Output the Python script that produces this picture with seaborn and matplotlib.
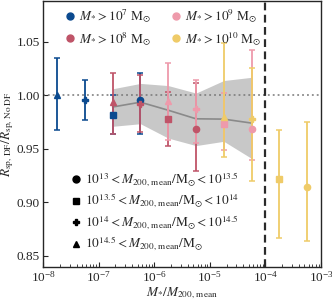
import numpy as np
import pandas as pd
import matplotlib
matplotlib.use("Agg")
import matplotlib.pyplot as plt
from matplotlib.lines import Line2D
import seaborn as sns

# stellar mass thresholds (log10 Msun) and halo mass bin centres (log10 Msun)
log_mstar = [7, 7, 7, 7, 8, 8, 8, 8, 9, 9, 9, 9, 10, 10, 10, 10]
log_m200 = [14.75, 14.25, 13.75, 13.25] * 4
ratio = [1.000, 0.9957, 0.982, 0.9957,
         0.994, 0.992, 0.9774, 0.9688,
         0.995, 0.9867, 0.9734, 0.9688,
         0.980, 0.978, 0.922, 0.914]
err_hi = [1.035, 1.0146, 1.0006, 1.0209,
          1.021, 1.0193, 1.0028, 1.011,
          1.030, 1.0146, 1.0019, 1.042,
          1.049, 1.025, 0.9678, 0.9746]
err_lo = [0.968, 0.9768, 0.9638, 0.9641,
          0.9638, 0.966, 0.953, 0.9294,
          0.9585, 0.9554, 0.9486, 0.940,
          0.9424, 0.920, 0.867, 0.864]

# running median + spread
band_logx = [-6.75, -6.25, -5.75, -5.25, -4.75, -4.25]
band_mid = [0.989, 0.9935, 0.986, 0.978, 0.9777, 0.974]
band_up = [1.006, 1.011, 1.009, 1.002, 1.0137, 1.0167]
band_lo = [0.971, 0.9734, 0.960, 0.953, 0.957, 0.941]

mstar_colors = {7: "#0b4a8f", 8: "#bf5468", 9: "#ee9aab", 10: "#efcb68"}
halo_markers = {13.25: "o", 13.75: "s", 14.25: "P", 14.75: "^"}
halo_labels = [r"$10^{13} < M_{200,\,\mathrm{mean}}/\mathrm{M}_{\odot} < 10^{13.5}$",
               r"$10^{13.5} < M_{200,\,\mathrm{mean}}/\mathrm{M}_{\odot} < 10^{14}$",
               r"$10^{14} < M_{200,\,\mathrm{mean}}/\mathrm{M}_{\odot} < 10^{14.5}$",
               r"$10^{14.5} < M_{200,\,\mathrm{mean}}/\mathrm{M}_{\odot}$"]

df = pd.DataFrame({"mstar": log_mstar, "m200": log_m200, "ratio": ratio,
                   "hi": err_hi, "lo": err_lo})
df["x"] = 10 ** (df.mstar - df.m200)

sns.set_style("ticks")
plt.rcParams["font.family"] = ["Liberation Serif", "DejaVu Serif"]
plt.rcParams["mathtext.fontset"] = "stix"
plt.rcParams["font.size"] = 10
plt.rcParams["xtick.direction"] = "in"
plt.rcParams["ytick.direction"] = "in"

fig = plt.figure(figsize=(3.32, 3.0), dpi=100)
ax = fig.add_axes([0.13, 0.111, 0.837, 0.886])

bx = 10 ** np.array(band_logx)
ax.fill_between(bx, band_lo, band_up, color="#c8c8c8", lw=0, zorder=1)
sns.lineplot(x=bx, y=band_mid, color="#8a8a8a", lw=1.2, ax=ax, zorder=2)

ax.axhline(1.0, color="#777777", ls=(0, (1.2, 2)), lw=1.1, zorder=1.5)
ax.axvline(1e-4, color="#2a2a2a", ls=(0, (3.5, 2)), lw=1.6, zorder=1.5)

for _, r in df.iterrows():
    c = mstar_colors[int(r.mstar)]
    ax.errorbar(r.x, r.ratio, yerr=[[r.ratio - r.lo], [r.hi - r.ratio]],
                fmt=halo_markers[r.m200], color=c, ms=4.5, elinewidth=1.3,
                capsize=2.3, capthick=1.1, zorder=3)

ax.set_xscale("log")
ax.set_xlim(1e-8, 1e-3)
ax.set_ylim(0.84, 1.088)
ax.set_yticks([0.85, 0.90, 0.95, 1.00, 1.05])
ax.tick_params(which="both", top=False, right=False)
ax.tick_params(which="major", length=3.5, width=0.8, labelsize=9.5, pad=2.5)
ax.tick_params(which="minor", length=2, width=0.6)
for s in ax.spines.values():
    s.set_linewidth(1.0)

ax.set_xlabel(r"$M_{*}/M_{200,\,\mathrm{mean}}$", fontsize=9.5, labelpad=0)
ax.set_ylabel(r"$R_{\mathrm{sp,\,DF}}/R_{\mathrm{sp,\,No\;DF}}$", fontsize=9.5, labelpad=0)

h1 = [Line2D([], [], ls="", marker="o", ms=5, color=mstar_colors[k]) for k in [7, 8, 9, 10]]
l1 = [r"$M_{*} > 10^{%d}\ \mathrm{M}_{\odot}$" % k for k in [7, 8, 9, 10]]
leg1 = ax.legend(h1, l1, ncol=2, loc="upper left", frameon=False, fontsize=9.5,
                 handletextpad=0.2, columnspacing=1.35, handlelength=1.0,
                 labelspacing=0.35, borderaxespad=0.1, bbox_to_anchor=(0.05, 1.0))
ax.add_artist(leg1)

h2 = [Line2D([], [], ls="", marker=m, ms=5, color="black") for m in ["o", "s", "P", "^"]]
ax.legend(h2, halo_labels, loc="lower left", frameon=False, fontsize=9.5,
          handletextpad=0.2, handlelength=1.0, labelspacing=0.22,
          bbox_to_anchor=(0.05, 0.005))

fig.savefig("out.png", dpi=100)
